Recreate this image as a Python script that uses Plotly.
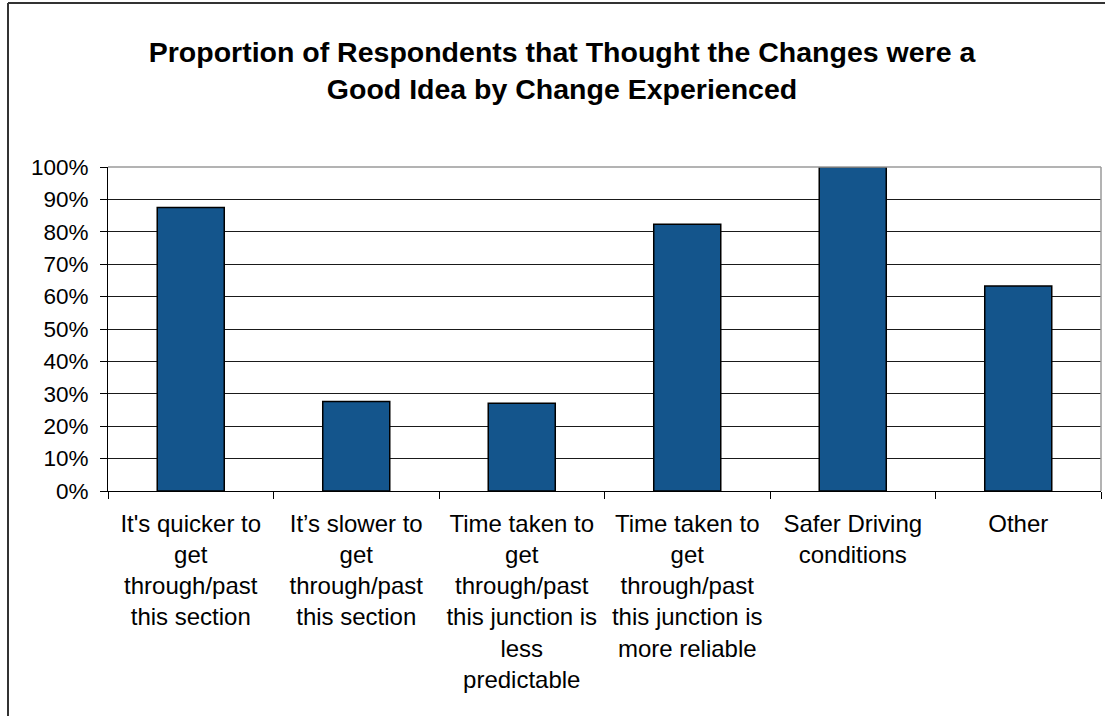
import plotly.graph_objects as go

# Categories of change experienced and the share who thought it a good idea
categories = [
    "It's quicker to<br>get<br>through/past<br>this section",
    "It’s slower to<br>get<br>through/past<br>this section",
    "Time taken to<br>get<br>through/past<br>this junction is<br>less<br>predictable",
    "Time taken to<br>get<br>through/past<br>this junction is<br>more reliable",
    "Safer Driving<br>conditions",
    "Other",
]
good_idea_share = [0.875, 0.276, 0.271, 0.823, 1.00, 0.633]
y_ticks = [i / 10 for i in range(11)]

W, H = 1105, 716
L, R, T, B = 108, 4, 167, 225
FONT = "Liberation Sans, Arial, sans-serif"

fig = go.Figure(
    go.Bar(
        x=categories,
        y=good_idea_share,
        marker=dict(color="#14558C", line=dict(color="#000000", width=1.5)),
        width=0.405,
        hoverinfo="x+y",
    )
)

def px_x(px):
    return (px - L) / (W - L - R)

def px_y(py):
    return (H - B - py) / (H - T - B)

fig.update_layout(
    width=W,
    height=H,
    margin=dict(l=L, r=R, t=T, b=B, pad=0),
    paper_bgcolor="white",
    plot_bgcolor="white",
    showlegend=False,
    font=dict(family=FONT, color="#000000"),
    title=dict(
        text="<b>Proportion of Respondents that Thought the Changes were a<br>Good Idea by Change Experienced</b>",
        font=dict(family=FONT, size=28.5, color="#000000"),
        x=562 / W,
        xanchor="center",
        xref="container",
        y=1 - 62 / H,
        yanchor="top",
        yref="container",
    ),
    xaxis=dict(
        type="category",
        tickson="boundaries",
        ticks="outside",
        ticklen=7,
        tickcolor="#000000",
        showline=True,
        linecolor="#000000",
        linewidth=1,
        showgrid=False,
        tickfont=dict(family=FONT, size=24, color="#000000"),
        ticklabelstandoff=11,
    ),
    yaxis=dict(
        range=[0, 1],
        tickvals=y_ticks,
        tickformat=".0%",
        ticks="outside",
        ticklen=7,
        tickcolor="#000000",
        showline=True,
        linecolor="#000000",
        linewidth=1,
        showgrid=True,
        gridcolor="#1a1a1a",
        gridwidth=1,
        zeroline=False,
        tickfont=dict(family=FONT, size=22.5, color="#000000"),
        ticklabelstandoff=7,
    ),
    shapes=[
        # plot-area frame on the top and right edges
        dict(type="line", xref="paper", yref="paper", x0=0, x1=1, y0=1, y1=1,
             line=dict(color="#9a9a9a", width=1.5), layer="above"),
        dict(type="line", xref="paper", yref="paper", x0=1, x1=1, y0=0, y1=1,
             line=dict(color="#9a9a9a", width=1.5), layer="above"),
        # chart-area border
        dict(type="line", xref="paper", yref="paper",
             x0=px_x(8), x1=px_x(8), y0=px_y(3), y1=px_y(H + 5),
             line=dict(color="#333333", width=2)),
        dict(type="line", xref="paper", yref="paper",
             x0=px_x(8), x1=px_x(W + 5), y0=px_y(3), y1=px_y(3),
             line=dict(color="#333333", width=2)),
    ],
)

fig.write_html("out.html")
